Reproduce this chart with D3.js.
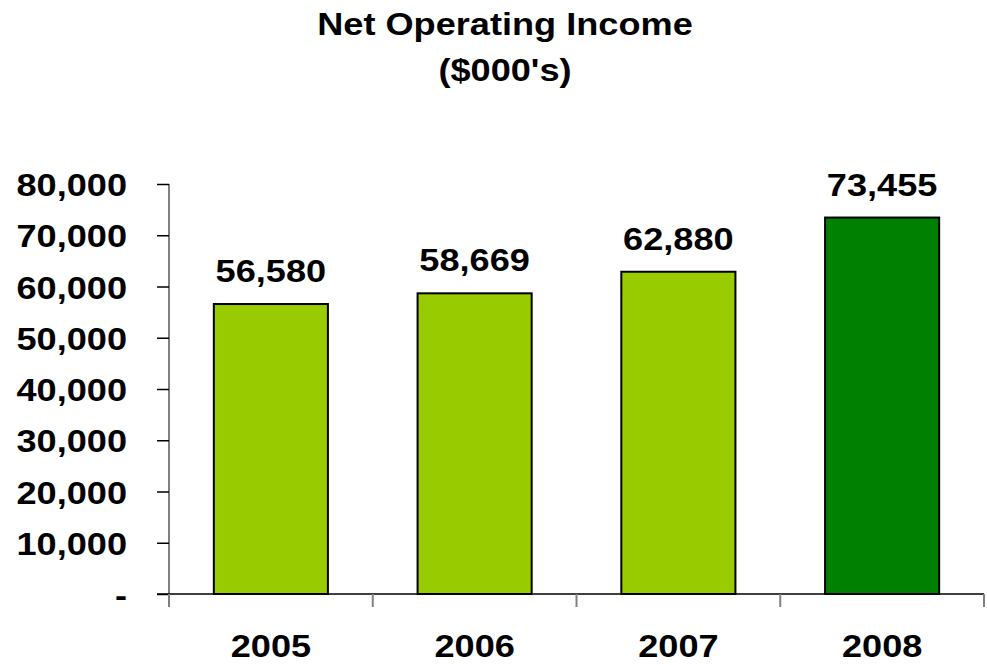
<!DOCTYPE html>
<html>
<head>
<meta charset="utf-8">
<script src="https://cdn.jsdelivr.net/npm/d3@7"></script>
<style>
  body { margin: 0; background: #fff; }
  text { font-family: "Liberation Sans", Arial, sans-serif; font-weight: bold; fill: #000; }
</style>
</head>
<body>
<div id="chart"></div>
<script>
// chart data
const years = ["2005", "2006", "2007", "2008"];
const income = [56580, 58669, 62880, 73455];
const barColors = ["#99cc00", "#99cc00", "#99cc00", "#008000"];
const yTicks = [0, 10000, 20000, 30000, 40000, 50000, 60000, 70000, 80000];
const titleLines = ["Net Operating Income", "($000's)"];

const width = 987, height = 665;
const margin = {left: 169, right: 3, top: 184, bottom: 71};
const fontSize = "32px";
const stretch = 1.13; // the original text is a bit wider than tall

function place(px, py) {
    return "translate(" + px + "," + py + ") scale(" + stretch + ",1)";
}

let svg = d3.select("#chart").append("svg")
    .attr("width", width)
    .attr("height", height);

let x = d3.scaleBand()
    .domain(years)
    .range([margin.left, width - margin.right])
    .paddingInner(0.44)
    .paddingOuter(0.22);

let y = d3.scaleLinear()
    .domain([0, 80000])
    .range([height - margin.bottom, margin.top]);

// title
svg.selectAll(".title")
    .data(titleLines)
    .enter()
    .append("text")
    .attr("class", "title")
    .attr("transform", (d, i) => place(505, 35 + i * 46))
    .attr("text-anchor", "middle")
    .style("font-size", fontSize)
    .text(d => d);

// y axis
let yAxis = svg.append("g")
    .attr("transform", "translate(" + margin.left + ",0)")
    .call(d3.axisLeft(y).tickValues(yTicks).tickSize(12)
        .tickFormat(d => d === 0 ? "-" : d3.format(",")(d)));
yAxis.select(".domain").attr("stroke", "#808080").attr("stroke-width", 2)
    .attr("d", "M0," + y(80000) + "V" + (y(0) + 13));
yAxis.selectAll(".tick line").attr("stroke", "#000").attr("stroke-width", 1.5);
yAxis.selectAll(".tick text")
    .attr("x", 0)
    .attr("dy", "0.36em")
    .attr("transform", place(-42, 0))
    .style("font-size", fontSize);

// x axis
let xAxis = svg.append("g")
    .attr("transform", "translate(0," + y(0) + ")");
xAxis.append("line")
    .attr("x1", margin.left - 12)
    .attr("x2", width - margin.right)
    .attr("stroke", "#000")
    .attr("stroke-width", 1.5);
let bounds = years.map(d => x(d) - x.step() * x.paddingInner() / 2);
bounds.push(width - margin.right);
xAxis.selectAll(".xtick")
    .data(bounds)
    .enter()
    .append("line")
    .attr("class", "xtick")
    .attr("x1", d => d)
    .attr("x2", d => d)
    .attr("y1", 0)
    .attr("y2", 13)
    .attr("stroke", "#808080")
    .attr("stroke-width", 2);
xAxis.selectAll(".xlabel")
    .data(years)
    .enter()
    .append("text")
    .attr("class", "xlabel")
    .attr("transform", d => place(x(d) + x.bandwidth() / 2, 63))
    .attr("text-anchor", "middle")
    .style("font-size", fontSize)
    .text(d => d);

// bars
svg.selectAll(".bar")
    .data(income)
    .enter()
    .append("rect")
    .attr("class", "bar")
    .attr("x", (d, i) => x(years[i]))
    .attr("y", d => y(d))
    .attr("width", x.bandwidth())
    .attr("height", d => y(0) - y(d))
    .attr("fill", (d, i) => barColors[i])
    .attr("stroke", "#000")
    .attr("stroke-width", 2);

// value labels
svg.selectAll(".value")
    .data(income)
    .enter()
    .append("text")
    .attr("class", "value")
    .attr("transform", (d, i) => place(x(years[i]) + x.bandwidth() / 2, y(d) - 22))
    .attr("text-anchor", "middle")
    .style("font-size", fontSize)
    .text(d => d3.format(",")(d));
</script>
</body>
</html>
